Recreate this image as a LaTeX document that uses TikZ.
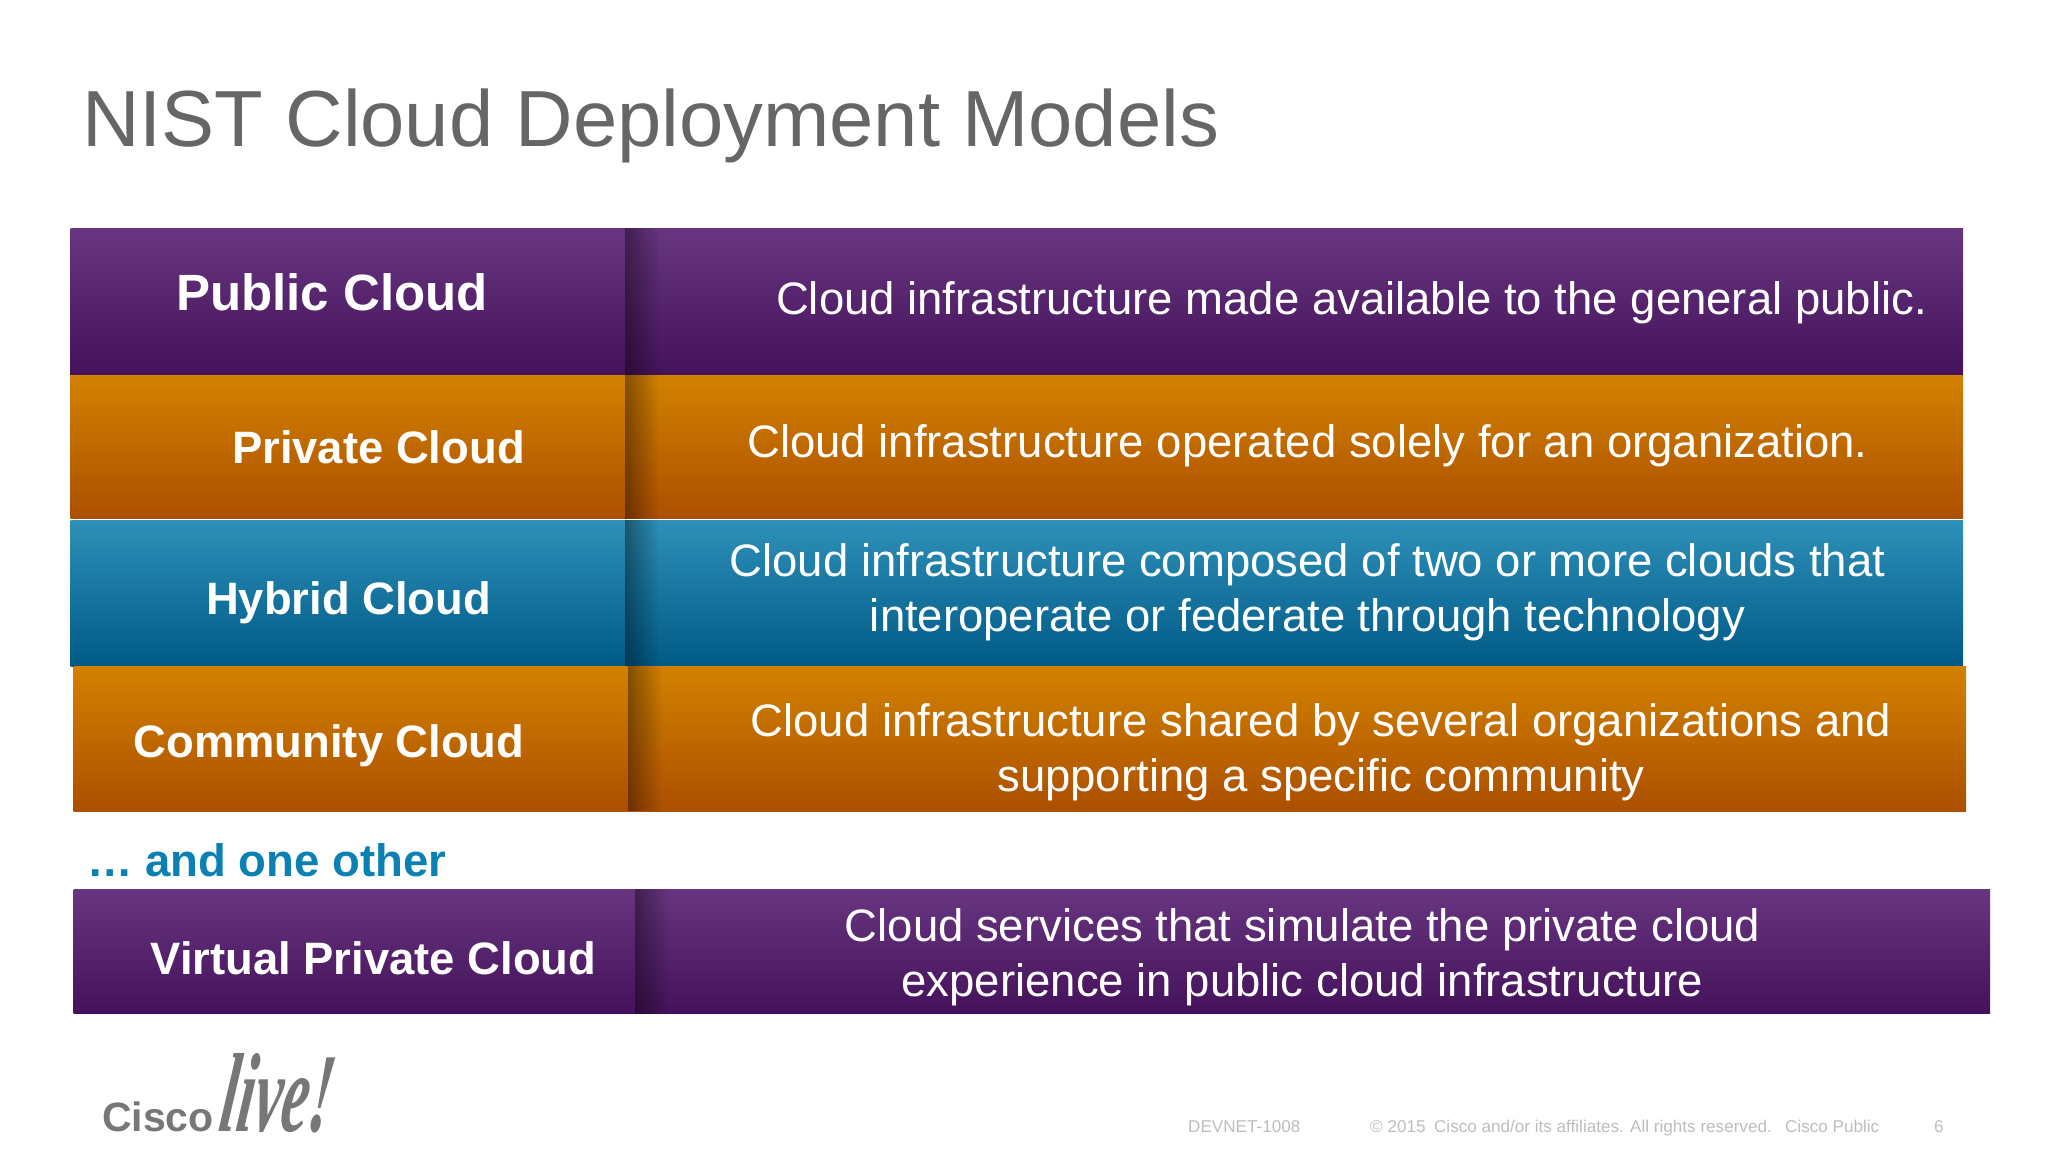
\documentclass[tikz,border=0pt]{standalone}
\usepackage{fontspec}
\setmainfont{Liberation Sans}
\newfontfamily\logoserif{Liberation Serif}
\usetikzlibrary{fadings}
\definecolor{titlegray}{HTML}{666666}
\definecolor{footgray}{HTML}{BDBDBD}
\definecolor{logogray}{HTML}{777777}
\definecolor{otherblue}{HTML}{0A80B5}
\definecolor{purpletop}{HTML}{683580}
\definecolor{purplebot}{HTML}{44125A}
\definecolor{orangetop}{HTML}{D28200}
\definecolor{orangebot}{HTML}{AC4F00}
\definecolor{bluetop}{HTML}{2E90B8}
\definecolor{bluebot}{HTML}{005A86}
\tikzset{
	purpleband/.style={top color=purpletop,bottom color=purplebot},
	orangeband/.style={top color=orangetop,bottom color=orangebot},
	blueband/.style={top color=bluetop,bottom color=bluebot},
	splitshade/.style={fill=black,fill opacity=.38,path fading=east},
	modelname/.style={anchor=base,text=white,font=\fontsize{45.4}{54}\selectfont\bfseries},
	modeltext/.style={anchor=center,text=white,align=center,font=\fontsize{45.5}{55}\selectfont},
	foot/.style={anchor=base west,text=footgray,font=\fontsize{17.1}{20}\selectfont},
}
\begin{document}
\begin{tikzpicture}[x=1pt,y=-1pt,inner sep=0pt]
	\useasboundingbox (0,0) rectangle (2048,1152);
	\node[anchor=base west,text=titlegray,font=\fontsize{79.6}{90}\selectfont] (title) at (82,146) {NIST Cloud Deployment Models};
	% bands
	\shade[purpleband] (70.5,228.5) rectangle (1963,375);
	\shade[orangeband] (70.5,375) rectangle (1963,518.5);
	\shade[blueband] (70.5,520) rectangle (1963,666);
	\shade[orangeband] (73.5,666) rectangle (1966,811);
	\shade[purpleband] (73.5,889) rectangle (1990,1013.5);
	% dark edge after the first column
	\fill[splitshade] (625,228.5) rectangle (659,375);
	\fill[splitshade] (625,375) rectangle (659,518.5);
	\fill[splitshade] (625,520) rectangle (659,666);
	\fill[splitshade] (628,666) rectangle (662,811);
	\fill[splitshade] (635,889) rectangle (669,1013.5);
	% names
	\node[modelname,font=\fontsize{51}{60}\selectfont\bfseries] (public) at (332,310) {Public Cloud};
	\node[modelname] (private) at (378.5,463) {Private Cloud};
	\node[modelname] (hybrid) at (348.5,614) {Hybrid Cloud};
	\node[modelname] (community) at (329,757) {Community Cloud};
	\node[modelname] (virtual) at (373.5,974) {Virtual Private Cloud};
	% descriptions
	\node[modeltext] (publictext) at (1351.5,303) {Cloud infrastructure made available to the general public.};
	\node[modeltext] (privatetext) at (1307.5,446) {Cloud infrastructure operated solely for an organization.};
	\node[modeltext] (hybridtext) at (1307.5,592.5) {Cloud infrastructure composed of two or more clouds that\\interoperate or federate through technology};
	\node[modeltext] (communitytext) at (1321,752) {Cloud infrastructure shared by several organizations and\\supporting a specific community};
	\node[modeltext] (virtualtext) at (1302.5,957.5) {Cloud services that simulate the private cloud\\experience in public cloud infrastructure};
	\node[anchor=base west,text=otherblue,font=\fontsize{45.5}{52}\selectfont\bfseries] (other) at (87,876) {\dots\ and one other};
	% logo
	\node[anchor=base west,text=logogray,font=\fontsize{41}{48}\selectfont\bfseries] (cisco) at (102,1131) {Cisco};
	\node[anchor=base west,text=logogray,xscale=.68,yscale=1.25,xslant=.25,font=\logoserif\itshape\bfseries\fontsize{90}{100}\selectfont] (live) at (217,1131) {live!};
	% footer
	\node[foot] (session) at (1188,1132) {DEVNET-1008};
	\node[foot] (rights) at (1370,1132) {© 2015\enspace Cisco and/or its affiliates. All rights reserved.\enspace\ Cisco Public};
	\node[foot] (page) at (1934,1132) {6};
\end{tikzpicture}
\end{document}
